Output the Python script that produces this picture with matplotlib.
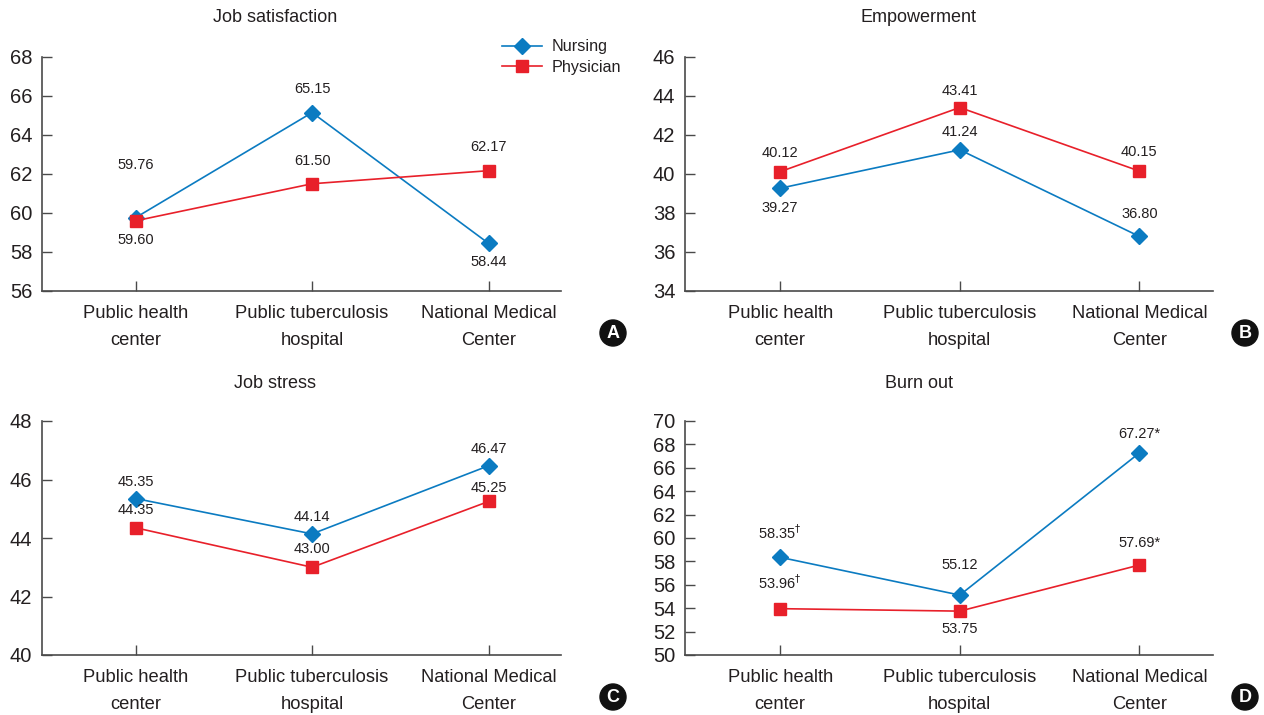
import matplotlib
matplotlib.use("Agg")
import matplotlib.pyplot as plt
from matplotlib.lines import Line2D

plt.rcParams['font.family'] = ['Liberation Sans', 'DejaVu Sans']

# data
categories = ['Public health\ncenter', 'Public tuberculosis\nhospital', 'National Medical\nCenter']
titles = ['Job satisfaction', 'Empowerment', 'Job stress', 'Burn out']
panel_letters = ['A', 'B', 'C', 'D']

nursing = [
    [59.76, 65.15, 58.44],
    [39.27, 41.24, 36.80],
    [45.35, 44.14, 46.47],
    [58.35, 55.12, 67.27],
]
physician = [
    [59.60, 61.50, 62.17],
    [40.12, 43.41, 40.15],
    [44.35, 43.00, 45.25],
    [53.96, 53.75, 57.69],
]
nursing_text = [
    ['59.76', '65.15', '58.44'],
    ['39.27', '41.24', '36.80'],
    ['45.35', '44.14', '46.47'],
    ['58.35$^{\\dagger}$', '55.12', '67.27*'],
]
physician_text = [
    ['59.60', '61.50', '62.17'],
    ['40.12', '43.41', '40.15'],
    ['44.35', '43.00', '45.25'],
    ['53.96$^{\\dagger}$', '53.75', '57.69*'],
]
y_ranges = [(56, 68, 2), (34, 46, 2), (40, 48, 2), (50, 70, 2)]

# label offsets in pixels (positive = above the marker)
nursing_off = [[53, 24, -19], [-20, 18, 22], [17, 17, 17], [25, 30, 19]]
physician_off = [[-19, 23, 24], [19, 17, 19], [18, 18, 13], [26, -18, 22]]

BLUE = '#0b7bc1'
RED = '#e8202a'
TXT = '#231f20'
SPINE = '#4a4a4a'

W, H = 1264, 715
fig = plt.figure(figsize=(W / 100, H / 100), dpi=100)

boxes = [(42, 57, 561, 291), (685, 57, 1213, 291),
         (42, 421, 561, 655), (685, 421, 1213, 655)]
title_x = [275, 919, 275, 919]
title_y = [18, 18, 383, 383]
letter_pos = [(613, 333), (1245, 333), (613, 697), (1245, 697)]

x = [0, 1, 2]
for i in range(4):
    l, t, r, b = boxes[i]
    ax = fig.add_axes([l / W, 1 - b / H, (r - l) / W, (b - t) / H])
    ax.plot(x, nursing[i], color=BLUE, lw=1.2, marker='D', ms=8.5,
            markeredgecolor=BLUE, zorder=3)
    ax.plot(x, physician[i], color=RED, lw=1.2, marker='s', ms=8,
            markeredgecolor=RED, zorder=3)

    for j in range(3):
        ax.annotate(nursing_text[i][j], (x[j], nursing[i][j]),
                    xytext=(0, nursing_off[i][j] * 0.72), textcoords='offset points',
                    ha='center', va='center', fontsize=10.5, color=TXT)
        ax.annotate(physician_text[i][j], (x[j], physician[i][j]),
                    xytext=(0, physician_off[i][j] * 0.72), textcoords='offset points',
                    ha='center', va='center', fontsize=10.5, color=TXT)

    lo, hi, step = y_ranges[i]
    ax.set_ylim(lo, hi)
    ax.set_yticks(range(lo, hi + 1, step))
    ax.set_xlim(-0.53, 2.41)
    ax.set_xticks(x)
    ax.set_xticklabels(categories, fontsize=13.2, linespacing=1.75)
    ax.spines['top'].set_visible(False)
    ax.spines['right'].set_visible(False)
    for s in ['left', 'bottom']:
        ax.spines[s].set_color(SPINE)
        ax.spines[s].set_linewidth(1.2)
    ax.tick_params(direction='in', length=7, width=1.0, color=SPINE,
                   labelcolor=TXT)
    ax.tick_params(axis='x', pad=10)
    ax.tick_params(axis='y', pad=7, labelsize=14.5)

    fig.text(title_x[i] / W, 1 - title_y[i] / H, titles[i], ha='center', va='center',
             fontsize=13, color=TXT)
    lx, ly = letter_pos[i]
    fig.text(lx / W, 1 - ly / H, panel_letters[i], ha='center', va='center',
             fontsize=13, fontweight='bold', color='white',
             bbox=dict(boxstyle='circle,pad=0.25', fc='#111111', ec='#111111'))

handles = [Line2D([], [], color=BLUE, lw=1.2, marker='D', ms=8.5, markeredgecolor=BLUE),
           Line2D([], [], color=RED, lw=1.2, marker='s', ms=8, markeredgecolor=RED)]
fig.legend(handles, ['Nursing', 'Physician'], loc='upper left',
           bbox_to_anchor=(487 / W, 1 - 25 / H), frameon=False, fontsize=11.6,
           handlelength=2.5, labelspacing=0.35, handletextpad=0.6,
           labelcolor=TXT)

fig.savefig('out.png', dpi=100)
